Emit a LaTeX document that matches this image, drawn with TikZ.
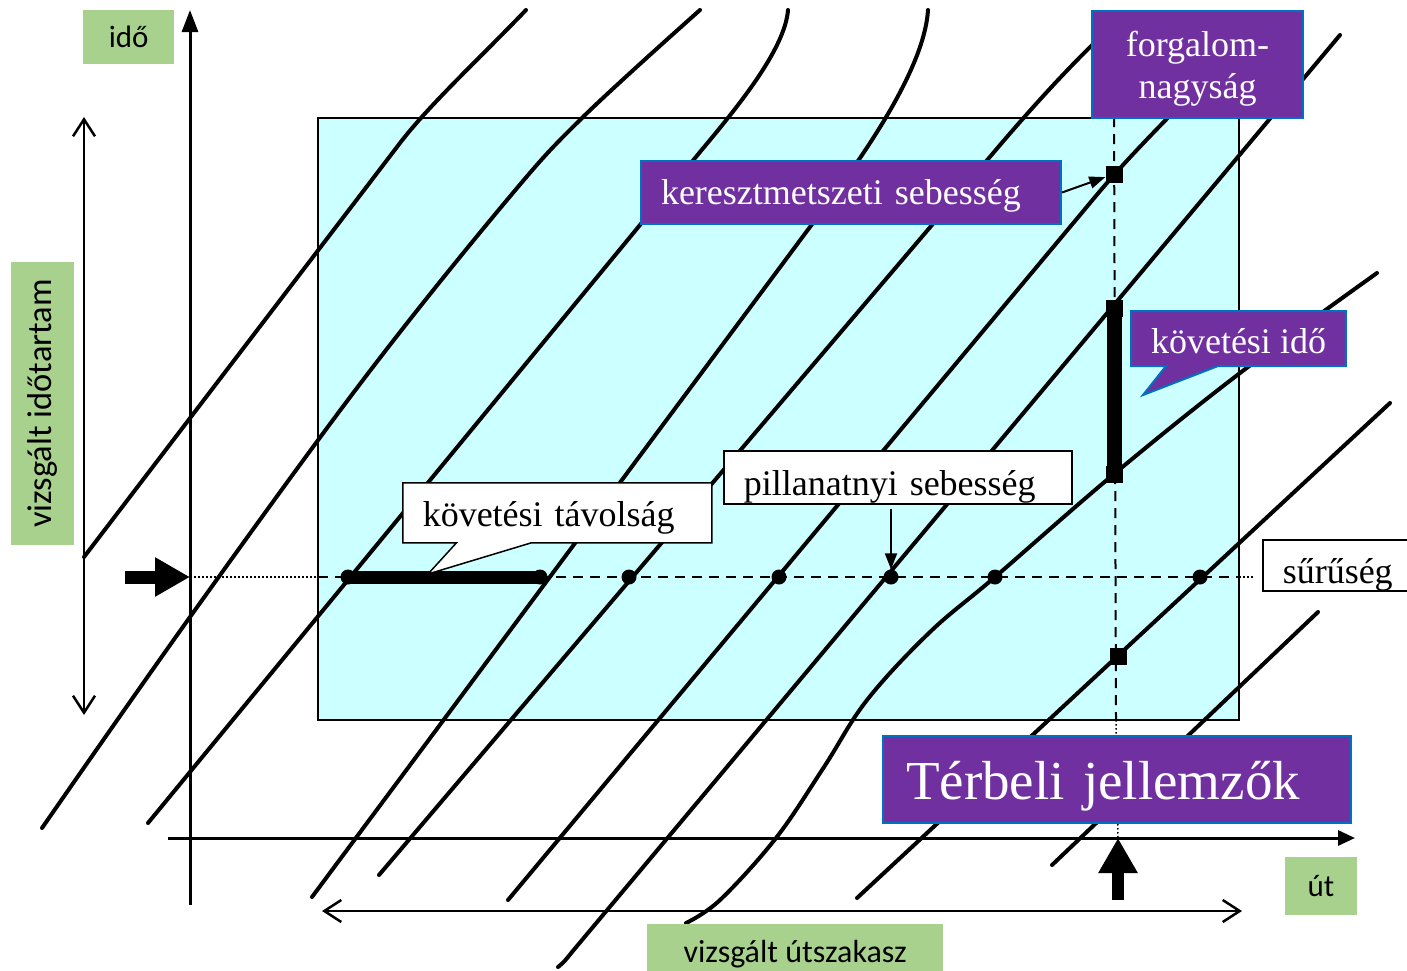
\documentclass[tikz,border=0pt]{standalone}
\usepackage{fontspec}
\setmainfont{Liberation Serif}
\newfontfamily\calibri{Carlito}
\usepackage{tikz}
\usetikzlibrary{arrows.meta, shapes.callouts}
\usepackage{xcolor}
\definecolor{lila}{RGB}{112,48,160}
\definecolor{keret}{RGB}{0,112,192}
\definecolor{zold}{RGB}{169,209,142}
\definecolor{vilagkek}{RGB}{204,255,255}

\begin{document}
\begin{tikzpicture}[x=1pt, y=-1pt,
    traj/.style={line width=4pt, line cap=round},
    zoldcimke/.style={fill=zold, inner sep=0pt, font=\calibri\fontsize{31}{36}\selectfont},
    lilacimke/.style={fill=lila, draw=keret, line width=2pt, text=white, inner xsep=20pt, inner ysep=0pt, align=left, text depth=0pt, font=\fontsize{36}{42}\selectfont},
    fehercimke/.style={fill=white, draw=black, line width=1.5pt, inner xsep=20pt, inner ysep=0pt, align=left, text depth=0pt, font=\fontsize{36}{42}\selectfont},
    pont/.style={circle, fill=black, inner sep=0pt, minimum size=15pt},
    negyzet/.style={rectangle, fill=black, inner sep=0pt, minimum size=17pt},
    szaggatott/.style={line width=2pt, dash pattern=on 10pt off 7pt},
    pontozott/.style={line width=1.5pt, dash pattern=on 1.5pt off 2.5pt},
    nyil/.style={line width=2pt, -{Triangle[length=16pt,width=12pt]}},
    ketnyil/.style={line width=2.5pt, {Straight Barb[length=17pt,width=22pt]}-{Straight Barb[length=17pt,width=22pt]}},
    blokknyil/.style={line width=13pt, -{Triangle[length=35pt,width=37pt]}}]
      \useasboundingbox (0,0) rectangle (1407,970);

      % vizsgalt terulet
      \draw[line width=1.5pt, fill=vilagkek] (318,118) rectangle (1239,720);

      % jarmuvek palyai
      \draw[traj] (84,557) -- (400,143) .. controls (430,104) and (480,58) .. (526,10);
      \draw[traj] plot[smooth, tension=0.6] coordinates {(42,828) (190,617) (363,380) (507,200) (583,117) (700,10)};
      \draw[traj] (148,823) -- (700,152) .. controls (735,110) and (785,50) .. (788,10);
      \draw[traj] (312,897) -- (830,200) .. controls (880,133) and (925,60) .. (928,10);
      \draw[traj] (379,875) -- (1000,145) .. controls (1030,110) and (1070,65) .. (1110,28);
      \draw[traj] (508,900) -- (1095,197) .. controls (1125,161) and (1160,125) .. (1240,45);
      \draw[traj] (558,967) .. controls (564,962) .. (572,952) -- (1340,35);
      \draw[traj] plot[smooth, tension=0.6] coordinates {(686,923) (720,900) (776,838) (824,767) (867,700) (930,632) (995,577) (1114,474) (1240,373) (1377,273)};
      \draw[traj] (857,898) -- (1390,403);
      \draw[traj] (1052,865) -- (1318,612);

      % metszetek
      \coordinate (t0) at (190,577);
      \coordinate (rb) at (318,577);
      \coordinate (rj) at (1239,577);
      \coordinate (sj) at (1255,577);
      \coordinate (f0) at (1114,117);
      \coordinate (f1) at (1116,720);
      \coordinate (f2) at (1118,838);
      \draw[pontozott] (t0) -- (rb);
      \draw[szaggatott] (rb) -- (rj);
      \draw[pontozott] (rj) -- (sj);
      \draw[szaggatott] (f0) -- (f1);
      \draw[pontozott] (f1) -- (f2);

      % pontok es negyzetek
      \foreach \x/\n in {348/1, 540/2, 629/3, 779/4, 891/5, 995/6, 1200/7}
        \node[pont] (d\n) at (\x,577) {};
      \node[negyzet] (n1) at (1114,174) {};
      \node[negyzet] (n2) at (1114,308) {};
      \node[negyzet] (n3) at (1114,474) {};
      \node[negyzet] (n4) at (1118,656) {};
      \draw[line width=13pt] (d1.center) -- (d2.center);
      \draw[line width=15pt] (n2.center) -- (n3.center);

      % tengelyek
      \coordinate (ido0) at (190,905);
      \coordinate (ido1) at (190,10);
      \coordinate (ut0) at (168,838);
      \coordinate (ut1) at (1355,838);
      \draw[line width=3pt, -{Triangle[length=22pt,width=16pt]}] (ido0) -- (ido1);
      \draw[line width=3pt, -{Triangle[length=17pt,width=15pt]}] (ut0) -- (ut1);

      % vizsgalt idotartam es utszakasz
      \coordinate (tfel) at (84,117);
      \coordinate (tle) at (84,715);
      \coordinate (sbal) at (322,911);
      \coordinate (sjobb) at (1242,911);
      \draw[ketnyil] (tfel) -- (tle);
      \draw[ketnyil] (sbal) -- (sjobb);

      % vastag nyilak
      \coordinate (bal) at (125,577);
      \coordinate (alul) at (1118,900);
      \draw[blokknyil] (bal) -- (t0);
      \draw[blokknyil, line width=12pt] (alul) -- (f2);

      % zold cimkek
      \node[zoldcimke, minimum width=91pt, minimum height=54pt, anchor=north west] (ido) at (83,10) {idő};
      \node[zoldcimke, font=\calibri\fontsize{34.5}{40}\selectfont, rotate=90, minimum width=283pt, minimum height=63pt] (idotartam) at (42.5,403.5) {vizsgált időtartam};
      \node[zoldcimke, minimum width=72pt, minimum height=58pt] (ut) at (1321,886) {út};
      \node[zoldcimke, font=\calibri\fontsize{32}{38}\selectfont, minimum width=296pt, minimum height=60pt, anchor=north west] (utszakasz) at (647,924) {vizsgált útszakasz};

      % lila cimkek
      \node[lilacimke, align=center, minimum width=211pt, minimum height=107pt, anchor=north west] (forgalom) at (1091,10) {forgalom-\\nagyság};
      \node[lilacimke, text width=380pt, text height=23pt, minimum height=63pt, anchor=north west] (kereszt) at (640,160) {keresztmetszeti sebesség};
      \node[lilacimke, rectangle callout, text height=29pt, minimum width=212pt, minimum height=55pt, anchor=north west, callout absolute pointer={(1143,395)}, callout pointer width=52pt] (kovido) at (1130,310) {követési idő};
      \node[lilacimke, font=\fontsize{55}{60}\selectfont, inner xsep=23pt, text width=422pt, text height=40pt, minimum height=87pt, anchor=north west] (terbeli) at (882,735) {Térbeli jellemzők};

      % feher cimkek
      \node[fehercimke, rectangle callout, text width=269pt, text height=28pt, minimum height=60pt, anchor=north west, callout absolute pointer={(428,574)}, callout pointer width=75pt] (kovtav) at (402,482) {követési távolság};
      \node[fehercimke, text width=308pt, text height=37pt, minimum height=53pt, anchor=north west] (pill) at (723,450) {pillanatnyi sebesség};
      \node[fehercimke, text width=125pt, text height=37pt, minimum height=51pt, anchor=north west] (suru) at (1262,539) {sűrűség};

      % mutato nyilak
      \draw[nyil] (kereszt.east) -- (n1);
      \draw[nyil, shorten <=4pt] (pill.south -| d5) -- (d5);
\end{tikzpicture}
\end{document}
